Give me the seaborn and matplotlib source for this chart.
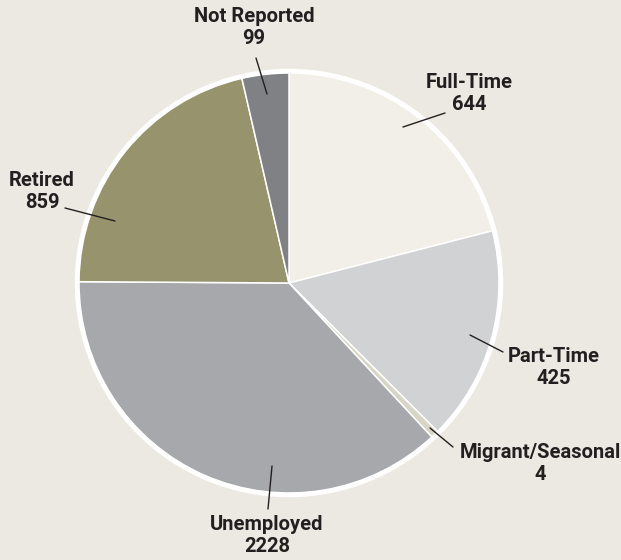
import numpy as np
import matplotlib.pyplot as plt
import seaborn as sns

categories = ["Full-Time", "Part-Time", "Migrant/Seasonal", "Unemployed", "Retired", "Not Reported"]
counts = [644, 425, 4, 2228, 859, 99]
# slice sizes as they are drawn in the source chart (percent of the circle)
shares = [21.0, 16.5, 0.6, 37.0, 21.3, 3.6]
colors = ["#f1efe8", "#d1d2d4", "#d7d5c5", "#a7a8ab", "#97946d", "#808184"]

# label layout in pixels from the top-left: text centre, leader start, leader end
label_pos = {
    "Full-Time": ((469, 94), (445, 113), (403, 127)),
    "Part-Time": ((554, 368), (503, 352), (470, 335)),
    "Migrant/Seasonal": ((540, 464), (453, 447), (430, 428)),
    "Unemployed": ((267, 536), (268, 509), (272, 466)),
    "Retired": ((42, 191), (65, 208), (115, 221)),
    "Not Reported": ((254, 28), (256, 58), (267, 94)),
}

W, H = 621, 560
bg = "#ece9e2"
ink = "#231f20"

sns.set_theme(style="white")
plt.rcParams["font.family"] = ["Roboto", "DejaVu Sans"]

fig = plt.figure(figsize=(W / 100, H / 100), dpi=100, facecolor=bg)
ax = fig.add_axes([0, 0, 1, 1])
ax.set_facecolor(bg)

cx, cy, r = 289, H - 283, 210
ax.pie(shares, colors=colors, startangle=90, counterclock=False,
       center=(cx, cy), radius=r,
       wedgeprops=dict(edgecolor="white", linewidth=1.1))
ax.add_patch(plt.Circle((cx, cy), r + 2, fill=False, edgecolor="white", lw=3.2))

for cat, n in zip(categories, counts):
    (tx, ty), (x0, y0), (x1, y1) = label_pos[cat]
    ax.plot([x0, x1], [H - y0, H - y1], color=ink, lw=1.0)
    ax.text(tx, H - ty, f"{cat}\n{n}", ha="center", va="center",
            fontsize=14.5, fontweight="bold", color=ink, linespacing=1.2)

ax.set_xlim(0, W)
ax.set_ylim(0, H)
ax.set_aspect("equal")
ax.axis("off")

fig.savefig("out.png", dpi=100, facecolor=bg)
